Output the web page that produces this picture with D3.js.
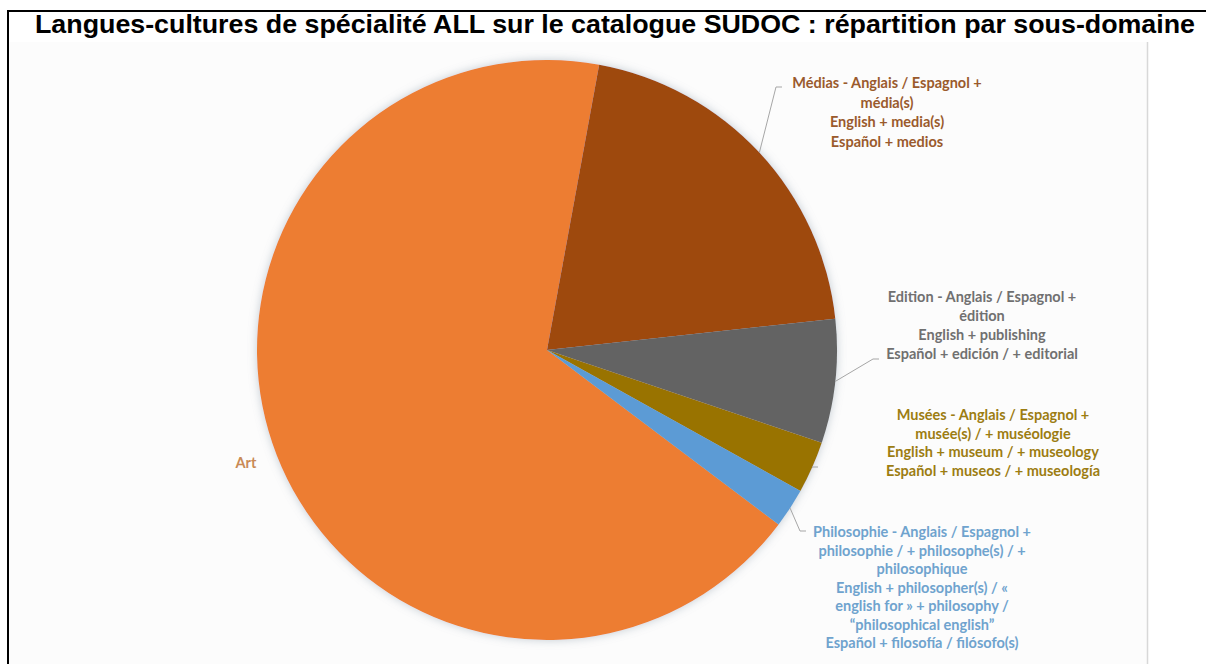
<!DOCTYPE html>
<html>
<head>
<meta charset="utf-8">
<script src="https://cdn.jsdelivr.net/npm/d3@7"></script>
<style>
  body { margin: 0; background: #fff; }
  svg { display: block; }
</style>
</head>
<body>
<svg id="chart"></svg>
<script>
var width = 1206;
var height = 664;

// sous-domaines, dans l'ordre du graphique
var categories = ['Art', 'Médias', 'Edition', 'Musées', 'Philosophie'];
var values = [67.6, 20.4, 6.9, 2.9, 2.2];
var colors = ['#ED7D31', '#9E480E', '#636363', '#997300', '#5B9BD5'];
var labelColors = ['#C98A55', '#9A5A2C', '#707070', '#9C7D12', '#6FA3CE'];
var labelLines = [
  ['Art'],
  ['Médias - Anglais / Espagnol +', 'média(s)', 'English + media(s)', 'Español + medios'],
  ['Edition - Anglais / Espagnol +', 'édition', 'English + publishing', 'Español + edición / + editorial'],
  ['Musées - Anglais / Espagnol +', 'musée(s) / + muséologie', 'English + museum / + museology', 'Español + museos / + museología'],
  ['Philosophie - Anglais / Espagnol +', 'philosophie / + philosophe(s) / +', 'philosophique',
   'English + philosopher(s) / «', 'english for » + philosophy /', '“philosophical  english”',
   'Español + filosofía / filósofo(s)']
];
// label anchor (centre of first line) and leader elbow for each slice
var labelPos = [
  {x: 246, y: 468, gap: 19, elbow: null},
  {x: 887, y: 88, gap: 19.5, elbow: [776, 87]},
  {x: 982, y: 302, gap: 19, elbow: [873, 359]},
  {x: 993, y: 420, gap: 18.5, elbow: [812, 467]},
  {x: 922, y: 537, gap: 18.5, elbow: [800, 531]}
];

var cx = 547, cy = 350, r = 290;
var startDeg = 127;

var svg = d3.select('#chart')
  .attr('width', width)
  .attr('height', height);

var defs = svg.append('defs');
var shadow = defs.append('filter').attr('id', 'shadow')
  .attr('x', '-10%').attr('y', '-10%').attr('width', '120%').attr('height', '120%');
shadow.append('feGaussianBlur').attr('in', 'SourceAlpha').attr('stdDeviation', 5).attr('result', 'blur');
shadow.append('feFlood').attr('flood-color', '#8a9aa8').attr('flood-opacity', 0.5);
shadow.append('feComposite').attr('in2', 'blur').attr('operator', 'in').attr('result', 'sh');
var merge = shadow.append('feMerge');
merge.append('feMergeNode').attr('in', 'sh');
merge.append('feMergeNode').attr('in', 'SourceGraphic');

// frame
svg.append('rect').attr('x', 9).attr('y', 42).attr('width', 1138).attr('height', height - 42)
  .attr('fill', '#fcfcfc');
svg.append('line').attr('x1', 1147.5).attr('x2', 1147.5).attr('y1', 42).attr('y2', height)
  .attr('stroke', '#d8d8d8').attr('stroke-width', 1.5);
svg.append('path')
  .attr('d', 'M8,' + height + 'V11H' + width)
  .attr('fill', 'none').attr('stroke', '#000').attr('stroke-width', 2);

svg.append('text')
  .attr('x', 615).attr('y', 33)
  .attr('text-anchor', 'middle')
  .attr('font-family', 'Liberation Sans, Arial, sans-serif')
  .attr('font-weight', 'bold')
  .attr('font-size', 25)
  .attr('textLength', 1160)
  .attr('lengthAdjust', 'spacingAndGlyphs')
  .text('Langues-cultures de spécialité ALL sur le catalogue SUDOC : répartition par sous-domaine');

var pie = d3.pie().sort(null)
  .startAngle(startDeg * Math.PI / 180)
  .endAngle((startDeg + 360) * Math.PI / 180);
var arcs = pie(values);
var arc = d3.arc().innerRadius(0).outerRadius(r);

var g = svg.append('g').attr('transform', 'translate(' + cx + ',' + cy + ')');
g.append('g').attr('filter', 'url(#shadow)')
  .selectAll('path')
  .data(arcs)
  .enter().append('path')
  .attr('d', arc)
  .attr('fill', function(d, i) { return colors[i]; });

// leader lines
arcs.forEach(function(d, i) {
  var p = labelPos[i];
  if (!p.elbow) return;
  var mid = (d.startAngle + d.endAngle) / 2;
  var x0 = cx + r * Math.sin(mid), y0 = cy - r * Math.cos(mid);
  svg.append('polyline')
    .attr('points', [[x0, y0], p.elbow, [p.elbow[0] + 6, p.elbow[1]]].map(function(q) { return q.join(','); }).join(' '))
    .attr('fill', 'none')
    .attr('stroke', '#a6a6a6')
    .attr('stroke-width', 1);
});

// labels
labelLines.forEach(function(lines, i) {
  var p = labelPos[i];
  var t = svg.append('text')
    .attr('text-anchor', 'middle')
    .attr('font-family', 'Lato, sans-serif')
    .attr('font-weight', 'bold')
    .attr('font-size', 14.5)
    .attr('fill', labelColors[i]);
  lines.forEach(function(s, k) {
    t.append('tspan').attr('x', p.x).attr('y', p.y + k * p.gap).text(s);
  });
});
</script>
</body>
</html>
